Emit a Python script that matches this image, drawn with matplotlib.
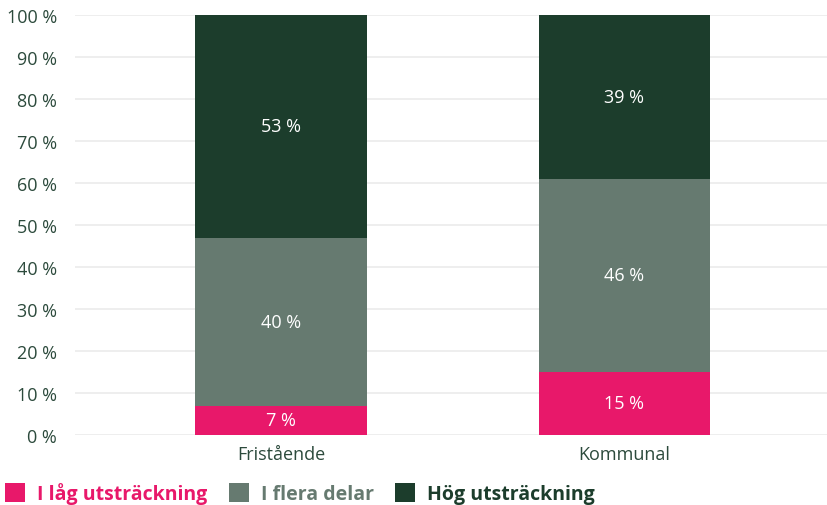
import matplotlib.pyplot as plt
import numpy as np

# Data
kategorier = ["Fristående", "Kommunal"]
lag = np.array([7, 15])
flera = np.array([40, 46])
hog = np.array([53, 39])
serier = ["I låg utsträckning", "I flera delar", "Hög utsträckning"]
farger = ["#E8186A", "#667A70", "#1C3D2C"]

plt.rcParams['font.family'] = ['Open Sans', 'DejaVu Sans']
textfarg = "#2C4A3C"

fig = plt.figure(figsize=(8.27, 5.06), dpi=100)
ax = fig.add_axes([75 / 827, 70 / 506, 752 / 827, 420 / 506])

x = np.arange(len(kategorier))
bredd = 0.5
botten = np.zeros(len(kategorier))
staplar = []
for varden, farg, namn in zip([lag, flera, hog], farger, serier):
    b = ax.bar(x, varden, bredd, bottom=botten, color=farg, label=namn, zorder=3)
    staplar.append(b)
    for xi, v, bo in zip(x, varden, botten):
        ax.text(xi, bo + v / 2, f"{v} %", ha="center", va="center",
                color="white", fontsize=13, zorder=4)
    botten = botten + varden

ax.set_xlim(-0.6, 1.59)
ax.set_ylim(0, 100)
ax.set_yticks(np.arange(0, 101, 10))
ax.set_yticklabels([f"{t} %" for t in range(0, 101, 10)])
ax.set_xticks(x)
ax.set_xticklabels(kategorier)
ax.tick_params(axis="both", length=0, labelsize=13, colors=textfarg, pad=7)
ax.tick_params(axis="y", pad=13)
ax.grid(axis="y", color="#EBEBEB", linewidth=1.2, zorder=0)
for s in ax.spines.values():
    s.set_visible(False)

leg = fig.legend(handles=staplar, loc="lower left", bbox_to_anchor=(0.0, -0.008),
                 ncol=3, frameon=False, handlelength=1.05, handleheight=1.15,
                 handletextpad=0.6, columnspacing=1.1, borderpad=0,
                 borderaxespad=0.25, prop={"size": 14, "weight": "bold"})
for t, f in zip(leg.get_texts(), farger):
    t.set_color(f)

fig.savefig("out.png", dpi=100)
